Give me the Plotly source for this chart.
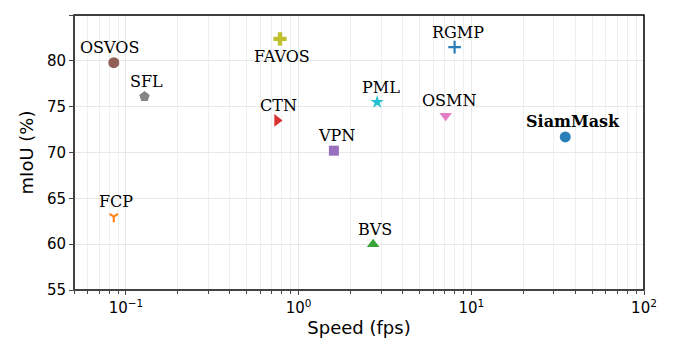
import math
import plotly.graph_objects as go

# dados: métodos, velocidade (fps) e mIoU (%)
methods = ['OSVOS', 'SFL', 'FAVOS', 'CTN', 'VPN', 'PML', 'RGMP', 'OSMN', 'SiamMask', 'FCP', 'BVS']
speed = [0.085, 0.128, 0.78, 0.75, 1.6, 2.85, 8.0, 7.1, 35.0, 0.085, 2.7]
miou = [79.8, 76.1, 82.4, 73.5, 70.2, 75.5, 81.5, 74.0, 71.7, 63.0, 60.0]

x_tickvals = [0.1, 1, 10, 100]
x_ticktext = ['10<sup>−1</sup>', '10<sup>0</sup>', '10<sup>1</sup>', '10<sup>2</sup>']
y_tickvals = [55, 60, 65, 70, 75, 80, 85]

# estilo de cada marcador (cor, símbolo, tamanho)
STYLE = {
    'OSVOS': ('#8c564b', 'circle', 11),
    'SFL': ('#7f7f7f', 'pentagon', 11),
    'FAVOS': ('#bcbd22', 'cross', 11),
    'CTN': ('#d62728', 'triangle-right', 11),
    'VPN': ('#9467bd', 'square', 10),
    'PML': ('#17becf', 'star', 10),
    'RGMP': ('#1f77b4', 'cross-thin', 9),
    'OSMN': ('#e377c2', 'triangle-down', 11),
    'SiamMask': ('#1f77b4', 'circle', 11),
    'FCP': ('#ff7f0e', 'y-down', 7),
    'BVS': ('#2ca02c', 'triangle-up', 11),
}
# deslocamento do rótulo em pixels
LABEL_SHIFT = {
    'OSVOS': (-4, 15), 'SFL': (2, 15), 'FAVOS': (2, -18), 'CTN': (1, 15),
    'VPN': (3, 15), 'PML': (4, 15), 'RGMP': (3, 15), 'OSMN': (3, 15),
    'SiamMask': (8, 15), 'FCP': (2, 15), 'BVS': (2, 15),
}

fig = go.Figure()

for name, sx, sy in zip(methods, speed, miou):
    color, symbol, size = STYLE[name]
    thin = symbol in ('cross-thin', 'y-down')
    fig.add_trace(go.Scatter(
        x=[sx], y=[sy], mode='markers', name=name, showlegend=False,
        marker=dict(
            color=color, symbol=symbol, size=size, opacity=0.95,
            line=dict(color=color, width=2.2 if thin else 0),
        ),
    ))
    dx, dy = LABEL_SHIFT[name]
    label = f'<b>{name}</b>' if name == 'SiamMask' else name
    fig.add_annotation(
        x=math.log10(sx), y=sy, text=label, showarrow=False,
        xshift=dx, yshift=dy,
        font=dict(family='DejaVu Serif', size=16, color='black'),
    )

grid_major = '#e8e8e8'
axis_gray = '#444444'

fig.update_xaxes(
    type='log', range=[math.log10(0.05), 2], automargin=False,
    tickvals=x_tickvals, ticktext=x_ticktext,
    ticks='outside', ticklen=4, tickcolor=axis_gray,
    showline=False,
    showgrid=True, gridcolor=grid_major, gridwidth=1,
    minor=dict(dtick='D1', ticks='outside', ticklen=2.5, tickcolor=axis_gray,
               showgrid=True, gridcolor='#efefef', gridwidth=1),
    zeroline=False,
    title=dict(text='Speed (fps)', standoff=4,
               font=dict(family='DejaVu Sans', size=18, color='black')),
    tickfont=dict(family='DejaVu Sans', size=15, color='black'),
)
fig.update_yaxes(
    range=[55, 85], tickvals=y_tickvals, automargin=False,
    ticks='outside', ticklen=4, tickcolor=axis_gray,
    showline=False,
    showgrid=True, gridcolor=grid_major, gridwidth=1,
    zeroline=False,
    title=dict(text='mIoU (%)', standoff=8,
               font=dict(family='DejaVu Sans', size=18, color='black')),
    tickfont=dict(family='DejaVu Sans', size=15, color='black'),
)

# moldura preta em volta da área do gráfico
fig.add_shape(type='rect', xref='x domain', yref='y domain', x0=0, x1=1, y0=0, y1=1,
              line=dict(color='black', width=1.5), fillcolor='rgba(0,0,0,0)', layer='above')
# bordas esquerda e inferior em cinza escuro
fig.add_shape(type='line', xref='x domain', yref='y domain', x0=0, x1=1, y0=0, y1=0,
              line=dict(color=axis_gray, width=1.6), layer='above')
fig.add_shape(type='line', xref='x domain', yref='y domain', x0=0, x1=0, y0=0, y1=1,
              line=dict(color=axis_gray, width=1.6), layer='above')

# a página tem 8px de margem no body: compensa aqui
fig.update_layout(
    width=676, height=339,
    margin=dict(l=66, r=40, t=7, b=57),
    plot_bgcolor='white', paper_bgcolor='white',
)

fig.write_html('out.html')
